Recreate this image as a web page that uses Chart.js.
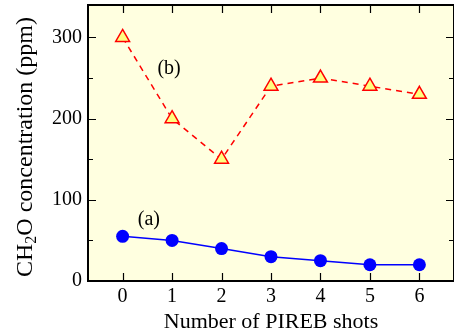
<!DOCTYPE html>
<html>
<head>
<meta charset="utf-8">
<script src="https://cdn.jsdelivr.net/npm/chart.js@4"></script>
<style>
  html, body { margin: 0; padding: 0; background: #fff; }
  #wrap { width: 454px; height: 335px; }
</style>
</head>
<body>
<div id="wrap"><canvas id="chart" width="454" height="335"></canvas></div>
<script>
// Data
const shots = [0, 1, 2, 3, 4, 5, 6];
const seriesA = [55, 50, 40, 30, 25, 20, 20];
const seriesB = [300, 200, 150, 240, 250, 240, 230];
const yTicks = [0, 100, 200, 300];
const yMinorTicks = [50, 150, 250];
const xTicks = [0, 1, 2, 3, 4, 5, 6];

const FONT = '"Liberation Serif", "Times New Roman", serif';

// frame, background and inward ticks
const framePlugin = {
    id: 'frame',
    beforeDraw(chart) {
        const a = chart.chartArea;
        const ctx = chart.ctx;
        ctx.save();
        ctx.fillStyle = '#ffffe0';
        ctx.fillRect(a.left, a.top, a.right - a.left, a.bottom - a.top);
        ctx.restore();
    },
    afterDraw(chart) {
        const a = chart.chartArea;
        const ctx = chart.ctx;
        const xs = chart.scales.x, ys = chart.scales.y;
        ctx.save();
        ctx.strokeStyle = '#000';
        ctx.lineWidth = 1.2;
        ctx.beginPath();
        xTicks.forEach(v => {
            const px = Math.round(xs.getPixelForValue(v)) + 0.5;
            ctx.moveTo(px, a.bottom); ctx.lineTo(px, a.bottom - 8);
            ctx.moveTo(px, a.top); ctx.lineTo(px, a.top + 8);
        });
        yTicks.forEach(v => {
            const py = Math.round(ys.getPixelForValue(v)) + 0.5;
            ctx.moveTo(a.left, py); ctx.lineTo(a.left + 8, py);
            ctx.moveTo(a.right, py); ctx.lineTo(a.right - 8, py);
        });
        yMinorTicks.forEach(v => {
            const py = Math.round(ys.getPixelForValue(v)) + 0.5;
            ctx.moveTo(a.left, py); ctx.lineTo(a.left + 5, py);
            ctx.moveTo(a.right, py); ctx.lineTo(a.right - 5, py);
        });
        ctx.stroke();

        ctx.lineWidth = 2;
        ctx.strokeRect(a.left, a.top, a.right - a.left, a.bottom - a.top);

        // series labels
        ctx.fillStyle = '#000';
        ctx.font = '20px ' + FONT;
        ctx.textAlign = 'center';
        ctx.textBaseline = 'middle';
        ctx.fillText('(a)', xs.getPixelForValue(0.53), ys.getPixelForValue(76));
        ctx.fillText('(b)', xs.getPixelForValue(0.94), ys.getPixelForValue(261));

        // y axis title with subscript
        ctx.translate(26, (a.top + a.bottom) / 2 + 4);
        ctx.rotate(-Math.PI / 2);
        ctx.textBaseline = 'middle';
        ctx.textAlign = 'left';
        const big = '24px ' + FONT, small = '16px ' + FONT;
        const parts = [['CH', big, 0], ['2', small, 6], ['O concentration (ppm)', big, 0]];
        let total = 0;
        parts.forEach(p => { ctx.font = p[1]; total += ctx.measureText(p[0]).width; });
        let x = -total / 2;
        parts.forEach(p => {
            ctx.font = p[1];
            ctx.fillText(p[0], x, p[2]);
            x += ctx.measureText(p[0]).width;
        });
        ctx.restore();
    }
};

const ctx = document.getElementById('chart').getContext('2d');
new Chart(ctx, {
    type: 'line',
    data: {
        datasets: [
            {
                label: '(a)',
                data: shots.map((s, i) => ({ x: s, y: seriesA[i] })),
                borderColor: '#0000ff',
                backgroundColor: '#0000ff',
                borderWidth: 1.5,
                pointStyle: 'circle',
                pointRadius: 6.5,
                pointBorderWidth: 0,
                tension: 0
            },
            {
                label: '(b)',
                data: shots.map((s, i) => ({ x: s, y: seriesB[i] })),
                borderColor: '#ff0000',
                backgroundColor: '#ffff80',
                borderWidth: 1.5,
                borderDash: [6, 5],
                pointStyle: 'triangle',
                pointRadius: 8,
                pointBorderColor: '#ff0000',
                pointBorderWidth: 1.5,
                tension: 0
            }
        ]
    },
    options: {
        responsive: false,
        animation: false,
        layout: { autoPadding: false, padding: { top: 5, right: -1, bottom: 0, left: 0 } },
        plugins: {
            legend: { display: false },
            tooltip: { enabled: false }
        },
        scales: {
            x: {
                type: 'linear',
                min: -0.7,
                max: 6.7,
                afterBuildTicks: scale => { scale.ticks = xTicks.map(v => ({ value: v })); },
                afterFit: scale => { scale.height = 54; scale.paddingLeft = 0; scale.paddingRight = 0; },
                grid: { display: false, drawTicks: false },
                border: { display: false },
                ticks: {
                    color: '#000',
                    font: { family: FONT, size: 20 },
                    padding: 4,
                    maxRotation: 0
                },
                title: {
                    display: true,
                    text: 'Number of PIREB shots',
                    color: '#000',
                    font: { family: FONT, size: 22 },
                    padding: { top: 0, bottom: 0 }
                }
            },
            y: {
                type: 'linear',
                min: 0,
                max: 340,
                afterBuildTicks: scale => { scale.ticks = yTicks.map(v => ({ value: v })); },
                afterFit: scale => { scale.width = 88; scale.paddingTop = 0; scale.paddingBottom = 0; },
                grid: { display: false, drawTicks: false },
                border: { display: false },
                ticks: {
                    color: '#000',
                    font: { family: FONT, size: 20 },
                    padding: 6
                }
            }
        }
    },
    plugins: [framePlugin]
});
</script>
</body>
</html>
